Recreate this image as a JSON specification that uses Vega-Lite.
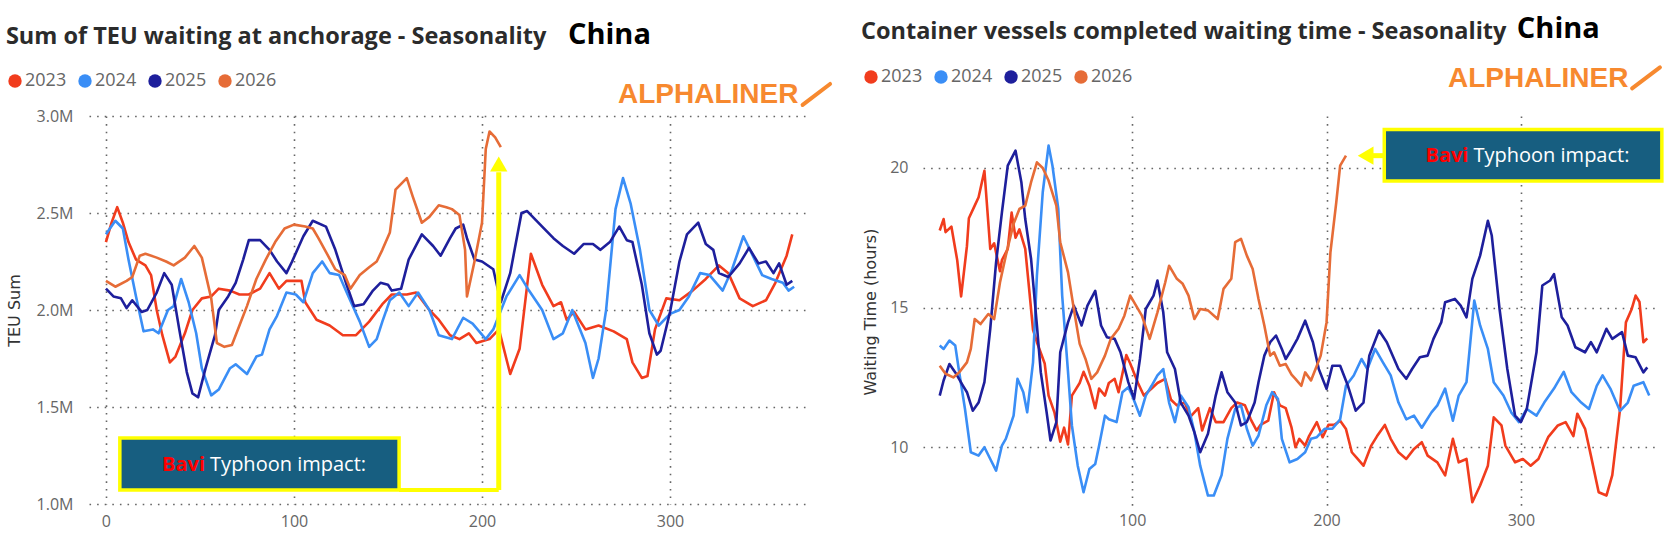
{
  "$schema": "https://vega.github.io/schema/vega-lite/v6.json",
  "background": "white",
  "padding": {"left": 5, "top": 14, "right": 5, "bottom": 5},
  "bounds": "flush",
  "spacing": 117,
  "config": {
    "view": {"stroke": null},
    "axis": {
      "domain": false,
      "ticks": false,
      "grid": true,
      "gridColor": "#666666",
      "gridDash": [1.6, 6],
      "gridWidth": 1.6,
      "labelFont": "Open Sans",
      "labelFontSize": 16,
      "labelColor": "#666666",
      "labelOverlap": false,
      "labelFlush": false,
      "titleFont": "DejaVu Sans",
      "titleFontSize": 16,
      "titleFontWeight": "normal",
      "titleColor": "#333333"
    }
  },
  "resolve": {"legend": {"color": "independent"}},
  "datasets": {
    "teu": [
      {"day":0,"year":"2023","teu":2.35},{"day":3,"year":"2023","teu":2.45},{"day":6,"year":"2023","teu":2.53},{"day":9,"year":"2023","teu":2.45},{"day":12,"year":"2023","teu":2.35},{"day":16,"year":"2023","teu":2.26},{"day":21,"year":"2023","teu":2.23},{"day":24,"year":"2023","teu":2.18},{"day":27,"year":"2023","teu":2.0},{"day":30,"year":"2023","teu":1.87},{"day":34,"year":"2023","teu":1.73},{"day":37,"year":"2023","teu":1.76},{"day":42,"year":"2023","teu":1.88},{"day":46,"year":"2023","teu":2.0},{"day":51,"year":"2023","teu":2.06},{"day":56,"year":"2023","teu":2.07},{"day":60,"year":"2023","teu":2.11},{"day":66,"year":"2023","teu":2.1},{"day":71,"year":"2023","teu":2.08},{"day":76,"year":"2023","teu":2.08},{"day":82,"year":"2023","teu":2.11},{"day":87,"year":"2023","teu":2.19},{"day":92,"year":"2023","teu":2.11},{"day":96,"year":"2023","teu":2.15},{"day":100,"year":"2023","teu":2.15},{"day":104,"year":"2023","teu":2.15},{"day":106,"year":"2023","teu":2.04},{"day":112,"year":"2023","teu":1.95},{"day":119,"year":"2023","teu":1.92},{"day":126,"year":"2023","teu":1.87},{"day":133,"year":"2023","teu":1.87},{"day":140,"year":"2023","teu":1.94},{"day":147,"year":"2023","teu":2.03},{"day":152,"year":"2023","teu":2.08},{"day":160,"year":"2023","teu":2.08},{"day":165,"year":"2023","teu":2.09},{"day":172,"year":"2023","teu":2.0},{"day":177,"year":"2023","teu":1.95},{"day":183,"year":"2023","teu":1.87},{"day":188,"year":"2023","teu":1.85},{"day":193,"year":"2023","teu":1.88},{"day":197,"year":"2023","teu":1.83},{"day":204,"year":"2023","teu":1.85},{"day":209,"year":"2023","teu":1.9},{"day":215,"year":"2023","teu":1.67},{"day":220,"year":"2023","teu":1.8},{"day":226,"year":"2023","teu":2.29},{"day":232,"year":"2023","teu":2.13},{"day":238,"year":"2023","teu":2.02},{"day":242,"year":"2023","teu":2.04},{"day":245,"year":"2023","teu":1.95},{"day":249,"year":"2023","teu":1.99},{"day":255,"year":"2023","teu":1.9},{"day":262,"year":"2023","teu":1.92},{"day":270,"year":"2023","teu":1.89},{"day":277,"year":"2023","teu":1.85},{"day":280,"year":"2023","teu":1.73},{"day":285,"year":"2023","teu":1.65},{"day":288,"year":"2023","teu":1.66},{"day":292,"year":"2023","teu":1.9},{"day":298,"year":"2023","teu":2.06},{"day":305,"year":"2023","teu":2.05},{"day":312,"year":"2023","teu":2.1},{"day":319,"year":"2023","teu":2.16},{"day":326,"year":"2023","teu":2.23},{"day":331,"year":"2023","teu":2.19},{"day":337,"year":"2023","teu":2.06},{"day":344,"year":"2023","teu":2.02},{"day":351,"year":"2023","teu":2.05},{"day":356,"year":"2023","teu":2.14},{"day":362,"year":"2023","teu":2.28},{"day":365,"year":"2023","teu":2.39},
      {"day":0,"year":"2024","teu":2.39},{"day":5,"year":"2024","teu":2.46},{"day":9,"year":"2024","teu":2.42},{"day":12,"year":"2024","teu":2.26},{"day":16,"year":"2024","teu":2.07},{"day":20,"year":"2024","teu":1.89},{"day":25,"year":"2024","teu":1.9},{"day":28,"year":"2024","teu":1.88},{"day":33,"year":"2024","teu":2.0},{"day":36,"year":"2024","teu":2.02},{"day":40,"year":"2024","teu":2.16},{"day":44,"year":"2024","teu":2.04},{"day":48,"year":"2024","teu":1.88},{"day":51,"year":"2024","teu":1.7},{"day":56,"year":"2024","teu":1.56},{"day":60,"year":"2024","teu":1.59},{"day":66,"year":"2024","teu":1.7},{"day":69,"year":"2024","teu":1.72},{"day":75,"year":"2024","teu":1.67},{"day":80,"year":"2024","teu":1.76},{"day":83,"year":"2024","teu":1.77},{"day":87,"year":"2024","teu":1.9},{"day":91,"year":"2024","teu":1.97},{"day":96,"year":"2024","teu":2.09},{"day":101,"year":"2024","teu":2.08},{"day":105,"year":"2024","teu":2.04},{"day":110,"year":"2024","teu":2.19},{"day":115,"year":"2024","teu":2.25},{"day":119,"year":"2024","teu":2.19},{"day":124,"year":"2024","teu":2.18},{"day":129,"year":"2024","teu":2.07},{"day":135,"year":"2024","teu":1.94},{"day":140,"year":"2024","teu":1.81},{"day":144,"year":"2024","teu":1.85},{"day":147,"year":"2024","teu":1.94},{"day":151,"year":"2024","teu":2.05},{"day":156,"year":"2024","teu":2.09},{"day":161,"year":"2024","teu":2.02},{"day":166,"year":"2024","teu":2.09},{"day":172,"year":"2024","teu":2.0},{"day":177,"year":"2024","teu":1.87},{"day":184,"year":"2024","teu":1.85},{"day":190,"year":"2024","teu":1.96},{"day":195,"year":"2024","teu":1.93},{"day":202,"year":"2024","teu":1.85},{"day":206,"year":"2024","teu":1.9},{"day":213,"year":"2024","teu":2.07},{"day":220,"year":"2024","teu":2.18},{"day":225,"year":"2024","teu":2.1},{"day":232,"year":"2024","teu":2.0},{"day":238,"year":"2024","teu":1.85},{"day":243,"year":"2024","teu":1.88},{"day":248,"year":"2024","teu":2.0},{"day":255,"year":"2024","teu":1.83},{"day":259,"year":"2024","teu":1.65},{"day":262,"year":"2024","teu":1.75},{"day":266,"year":"2024","teu":2.0},{"day":271,"year":"2024","teu":2.52},{"day":275,"year":"2024","teu":2.68},{"day":279,"year":"2024","teu":2.55},{"day":284,"year":"2024","teu":2.31},{"day":289,"year":"2024","teu":2.0},{"day":294,"year":"2024","teu":1.92},{"day":300,"year":"2024","teu":1.98},{"day":305,"year":"2024","teu":2.0},{"day":310,"year":"2024","teu":2.07},{"day":316,"year":"2024","teu":2.19},{"day":321,"year":"2024","teu":2.18},{"day":328,"year":"2024","teu":2.1},{"day":333,"year":"2024","teu":2.21},{"day":339,"year":"2024","teu":2.38},{"day":344,"year":"2024","teu":2.28},{"day":349,"year":"2024","teu":2.18},{"day":354,"year":"2024","teu":2.16},{"day":360,"year":"2024","teu":2.14},{"day":363,"year":"2024","teu":2.1},{"day":366,"year":"2024","teu":2.12},
      {"day":0,"year":"2025","teu":2.11},{"day":4,"year":"2025","teu":2.07},{"day":8,"year":"2025","teu":2.06},{"day":11,"year":"2025","teu":2.01},{"day":14,"year":"2025","teu":2.05},{"day":19,"year":"2025","teu":1.99},{"day":22,"year":"2025","teu":2.0},{"day":27,"year":"2025","teu":2.09},{"day":31,"year":"2025","teu":2.19},{"day":35,"year":"2025","teu":2.13},{"day":39,"year":"2025","teu":1.9},{"day":43,"year":"2025","teu":1.68},{"day":46,"year":"2025","teu":1.57},{"day":49,"year":"2025","teu":1.55},{"day":53,"year":"2025","teu":1.7},{"day":58,"year":"2025","teu":1.87},{"day":60,"year":"2025","teu":2.0},{"day":65,"year":"2025","teu":2.07},{"day":69,"year":"2025","teu":2.14},{"day":73,"year":"2025","teu":2.26},{"day":76,"year":"2025","teu":2.36},{"day":82,"year":"2025","teu":2.36},{"day":87,"year":"2025","teu":2.31},{"day":91,"year":"2025","teu":2.25},{"day":96,"year":"2025","teu":2.19},{"day":99,"year":"2025","teu":2.25},{"day":105,"year":"2025","teu":2.38},{"day":110,"year":"2025","teu":2.46},{"day":117,"year":"2025","teu":2.43},{"day":122,"year":"2025","teu":2.31},{"day":128,"year":"2025","teu":2.13},{"day":132,"year":"2025","teu":2.02},{"day":137,"year":"2025","teu":2.03},{"day":142,"year":"2025","teu":2.1},{"day":146,"year":"2025","teu":2.14},{"day":150,"year":"2025","teu":2.13},{"day":152,"year":"2025","teu":2.1},{"day":157,"year":"2025","teu":2.11},{"day":161,"year":"2025","teu":2.26},{"day":168,"year":"2025","teu":2.39},{"day":174,"year":"2025","teu":2.33},{"day":178,"year":"2025","teu":2.28},{"day":183,"year":"2025","teu":2.37},{"day":186,"year":"2025","teu":2.42},{"day":190,"year":"2025","teu":2.44},{"day":192,"year":"2025","teu":2.37},{"day":196,"year":"2025","teu":2.26},{"day":200,"year":"2025","teu":2.25},{"day":206,"year":"2025","teu":2.21},{"day":210,"year":"2025","teu":2.04},{"day":215,"year":"2025","teu":2.19},{"day":221,"year":"2025","teu":2.5},{"day":224,"year":"2025","teu":2.51},{"day":228,"year":"2025","teu":2.47},{"day":232,"year":"2025","teu":2.43},{"day":238,"year":"2025","teu":2.37},{"day":243,"year":"2025","teu":2.33},{"day":249,"year":"2025","teu":2.29},{"day":254,"year":"2025","teu":2.34},{"day":259,"year":"2025","teu":2.34},{"day":263,"year":"2025","teu":2.31},{"day":268,"year":"2025","teu":2.35},{"day":273,"year":"2025","teu":2.43},{"day":277,"year":"2025","teu":2.36},{"day":280,"year":"2025","teu":2.35},{"day":285,"year":"2025","teu":2.13},{"day":289,"year":"2025","teu":1.88},{"day":293,"year":"2025","teu":1.77},{"day":295,"year":"2025","teu":1.79},{"day":300,"year":"2025","teu":1.99},{"day":305,"year":"2025","teu":2.25},{"day":309,"year":"2025","teu":2.39},{"day":315,"year":"2025","teu":2.45},{"day":319,"year":"2025","teu":2.34},{"day":323,"year":"2025","teu":2.31},{"day":326,"year":"2025","teu":2.19},{"day":331,"year":"2025","teu":2.17},{"day":337,"year":"2025","teu":2.24},{"day":342,"year":"2025","teu":2.32},{"day":347,"year":"2025","teu":2.24},{"day":351,"year":"2025","teu":2.25},{"day":355,"year":"2025","teu":2.19},{"day":358,"year":"2025","teu":2.24},{"day":362,"year":"2025","teu":2.13},{"day":365,"year":"2025","teu":2.15},
      {"day":0,"year":"2026","teu":2.15},{"day":5,"year":"2026","teu":2.12},{"day":11,"year":"2026","teu":2.15},{"day":14,"year":"2026","teu":2.17},{"day":18,"year":"2026","teu":2.28},{"day":21,"year":"2026","teu":2.29},{"day":27,"year":"2026","teu":2.27},{"day":32,"year":"2026","teu":2.25},{"day":36,"year":"2026","teu":2.23},{"day":42,"year":"2026","teu":2.27},{"day":47,"year":"2026","teu":2.33},{"day":51,"year":"2026","teu":2.27},{"day":56,"year":"2026","teu":2.06},{"day":59,"year":"2026","teu":1.83},{"day":63,"year":"2026","teu":1.81},{"day":67,"year":"2026","teu":1.82},{"day":71,"year":"2026","teu":1.92},{"day":75,"year":"2026","teu":2.02},{"day":80,"year":"2026","teu":2.16},{"day":85,"year":"2026","teu":2.26},{"day":90,"year":"2026","teu":2.35},{"day":95,"year":"2026","teu":2.42},{"day":100,"year":"2026","teu":2.44},{"day":106,"year":"2026","teu":2.43},{"day":110,"year":"2026","teu":2.42},{"day":113,"year":"2026","teu":2.37},{"day":117,"year":"2026","teu":2.3},{"day":122,"year":"2026","teu":2.21},{"day":127,"year":"2026","teu":2.18},{"day":130,"year":"2026","teu":2.11},{"day":135,"year":"2026","teu":2.18},{"day":140,"year":"2026","teu":2.22},{"day":144,"year":"2026","teu":2.25},{"day":147,"year":"2026","teu":2.31},{"day":151,"year":"2026","teu":2.4},{"day":154,"year":"2026","teu":2.62},{"day":160,"year":"2026","teu":2.68},{"day":163,"year":"2026","teu":2.59},{"day":168,"year":"2026","teu":2.45},{"day":172,"year":"2026","teu":2.48},{"day":177,"year":"2026","teu":2.54},{"day":181,"year":"2026","teu":2.53},{"day":184,"year":"2026","teu":2.52},{"day":188,"year":"2026","teu":2.49},{"day":191,"year":"2026","teu":2.31},{"day":192,"year":"2026","teu":2.07},{"day":196,"year":"2026","teu":2.25},{"day":200,"year":"2026","teu":2.45},{"day":202,"year":"2026","teu":2.83},{"day":204,"year":"2026","teu":2.92},{"day":207,"year":"2026","teu":2.89},{"day":210,"year":"2026","teu":2.84}
    ],
    "wait": [
      {"day":1,"year":"2023","hours":17.76},{"day":3,"year":"2023","hours":18.17},{"day":4,"year":"2023","hours":17.7},{"day":7,"year":"2023","hours":17.9},{"day":9,"year":"2023","hours":17.1},{"day":10,"year":"2023","hours":16.7},{"day":12,"year":"2023","hours":15.4},{"day":15,"year":"2023","hours":17.2},{"day":16,"year":"2023","hours":18.2},{"day":19,"year":"2023","hours":18.65},{"day":21,"year":"2023","hours":18.95},{"day":24,"year":"2023","hours":19.9},{"day":27,"year":"2023","hours":17.1},{"day":29,"year":"2023","hours":17.3},{"day":32,"year":"2023","hours":16.3},{"day":33,"year":"2023","hours":16.7},{"day":36,"year":"2023","hours":17.1},{"day":38,"year":"2023","hours":18.4},{"day":40,"year":"2023","hours":17.5},{"day":42,"year":"2023","hours":17.8},{"day":45,"year":"2023","hours":17.1},{"day":47,"year":"2023","hours":15.67},{"day":49,"year":"2023","hours":14.2},{"day":51,"year":"2023","hours":13.76},{"day":55,"year":"2023","hours":13.0},{"day":57,"year":"2023","hours":11.85},{"day":60,"year":"2023","hours":11.25},{"day":63,"year":"2023","hours":10.2},{"day":65,"year":"2023","hours":10.7},{"day":67,"year":"2023","hours":10.1},{"day":69,"year":"2023","hours":11.85},{"day":73,"year":"2023","hours":12.3},{"day":75,"year":"2023","hours":12.7},{"day":78,"year":"2023","hours":12.2},{"day":81,"year":"2023","hours":11.4},{"day":83,"year":"2023","hours":12.1},{"day":86,"year":"2023","hours":11.85},{"day":88,"year":"2023","hours":12.3},{"day":91,"year":"2023","hours":12.45},{"day":93,"year":"2023","hours":11.97},{"day":97,"year":"2023","hours":13.3},{"day":99,"year":"2023","hours":13.0},{"day":103,"year":"2023","hours":12.3},{"day":106,"year":"2023","hours":11.85},{"day":110,"year":"2023","hours":12.1},{"day":113,"year":"2023","hours":12.3},{"day":117,"year":"2023","hours":12.45},{"day":120,"year":"2023","hours":11.7},{"day":123,"year":"2023","hours":11.5},{"day":127,"year":"2023","hours":11.6},{"day":130,"year":"2023","hours":11.1},{"day":134,"year":"2023","hours":11.4},{"day":136,"year":"2023","hours":10.6},{"day":140,"year":"2023","hours":11.4},{"day":143,"year":"2023","hours":10.9},{"day":147,"year":"2023","hours":10.9},{"day":151,"year":"2023","hours":11.4},{"day":154,"year":"2023","hours":11.6},{"day":158,"year":"2023","hours":11.5},{"day":161,"year":"2023","hours":11.0},{"day":164,"year":"2023","hours":10.6},{"day":166,"year":"2023","hours":10.8},{"day":170,"year":"2023","hours":10.95},{"day":173,"year":"2023","hours":11.97},{"day":176,"year":"2023","hours":11.5},{"day":179,"year":"2023","hours":11.4},{"day":182,"year":"2023","hours":10.7},{"day":184,"year":"2023","hours":10.0},{"day":186,"year":"2023","hours":10.3},{"day":189,"year":"2023","hours":10.06},{"day":191,"year":"2023","hours":10.4},{"day":195,"year":"2023","hours":10.9},{"day":198,"year":"2023","hours":10.36},{"day":201,"year":"2023","hours":10.8},{"day":204,"year":"2023","hours":10.8},{"day":207,"year":"2023","hours":10.95},{"day":210,"year":"2023","hours":10.65},{"day":213,"year":"2023","hours":9.82},{"day":216,"year":"2023","hours":9.58},{"day":219,"year":"2023","hours":9.34},{"day":223,"year":"2023","hours":10.06},{"day":226,"year":"2023","hours":10.4},{"day":230,"year":"2023","hours":10.8},{"day":233,"year":"2023","hours":10.3},{"day":237,"year":"2023","hours":9.82},{"day":241,"year":"2023","hours":9.58},{"day":245,"year":"2023","hours":9.94},{"day":249,"year":"2023","hours":10.18},{"day":252,"year":"2023","hours":9.7},{"day":257,"year":"2023","hours":9.46},{"day":261,"year":"2023","hours":8.99},{"day":265,"year":"2023","hours":10.3},{"day":268,"year":"2023","hours":9.46},{"day":272,"year":"2023","hours":9.58},{"day":275,"year":"2023","hours":8.03},{"day":279,"year":"2023","hours":8.63},{"day":283,"year":"2023","hours":9.34},{"day":286,"year":"2023","hours":11.07},{"day":290,"year":"2023","hours":10.78},{"day":292,"year":"2023","hours":10.06},{"day":297,"year":"2023","hours":9.46},{"day":301,"year":"2023","hours":9.58},{"day":305,"year":"2023","hours":9.34},{"day":309,"year":"2023","hours":9.58},{"day":314,"year":"2023","hours":10.36},{"day":319,"year":"2023","hours":10.78},{"day":323,"year":"2023","hours":10.9},{"day":327,"year":"2023","hours":10.4},{"day":329,"year":"2023","hours":11.2},{"day":333,"year":"2023","hours":10.66},{"day":336,"year":"2023","hours":9.7},{"day":340,"year":"2023","hours":8.39},{"day":344,"year":"2023","hours":8.27},{"day":347,"year":"2023","hours":9.0},{"day":351,"year":"2023","hours":11.37},{"day":354,"year":"2023","hours":14.47},{"day":357,"year":"2023","hours":14.95},{"day":359,"year":"2023","hours":15.43},{"day":361,"year":"2023","hours":15.2},{"day":363,"year":"2023","hours":13.76},{"day":365,"year":"2023","hours":13.9},
      {"day":1,"year":"2024","hours":13.64},{"day":3,"year":"2024","hours":13.52},{"day":6,"year":"2024","hours":13.82},{"day":9,"year":"2024","hours":13.64},{"day":11,"year":"2024","hours":12.7},{"day":14,"year":"2024","hours":11.37},{"day":17,"year":"2024","hours":9.82},{"day":21,"year":"2024","hours":9.7},{"day":24,"year":"2024","hours":10.0},{"day":27,"year":"2024","hours":9.58},{"day":30,"year":"2024","hours":9.16},{"day":33,"year":"2024","hours":10.06},{"day":35,"year":"2024","hours":10.3},{"day":39,"year":"2024","hours":11.13},{"day":41,"year":"2024","hours":12.45},{"day":44,"year":"2024","hours":11.97},{"day":46,"year":"2024","hours":11.25},{"day":49,"year":"2024","hours":13.04},{"day":51,"year":"2024","hours":16.15},{"day":54,"year":"2024","hours":19.13},{"day":57,"year":"2024","hours":20.8},{"day":59,"year":"2024","hours":20.08},{"day":62,"year":"2024","hours":18.53},{"day":64,"year":"2024","hours":15.43},{"day":67,"year":"2024","hours":12.7},{"day":69,"year":"2024","hours":10.78},{"day":72,"year":"2024","hours":9.34},{"day":75,"year":"2024","hours":8.39},{"day":78,"year":"2024","hours":9.22},{"day":81,"year":"2024","hours":9.4},{"day":83,"year":"2024","hours":10.06},{"day":86,"year":"2024","hours":11.13},{"day":88,"year":"2024","hours":11.0},{"day":92,"year":"2024","hours":10.9},{"day":95,"year":"2024","hours":11.97},{"day":98,"year":"2024","hours":12.15},{"day":100,"year":"2024","hours":11.85},{"day":104,"year":"2024","hours":11.13},{"day":107,"year":"2024","hours":11.85},{"day":110,"year":"2024","hours":12.2},{"day":113,"year":"2024","hours":12.57},{"day":116,"year":"2024","hours":12.8},{"day":119,"year":"2024","hours":11.6},{"day":122,"year":"2024","hours":10.9},{"day":125,"year":"2024","hours":11.85},{"day":129,"year":"2024","hours":11.43},{"day":132,"year":"2024","hours":10.54},{"day":135,"year":"2024","hours":9.34},{"day":139,"year":"2024","hours":8.27},{"day":142,"year":"2024","hours":8.27},{"day":146,"year":"2024","hours":9.0},{"day":149,"year":"2024","hours":10.3},{"day":153,"year":"2024","hours":11.37},{"day":156,"year":"2024","hours":11.5},{"day":159,"year":"2024","hours":10.66},{"day":162,"year":"2024","hours":10.06},{"day":165,"year":"2024","hours":10.42},{"day":169,"year":"2024","hours":11.5},{"day":172,"year":"2024","hours":11.97},{"day":175,"year":"2024","hours":11.73},{"day":177,"year":"2024","hours":10.3},{"day":181,"year":"2024","hours":9.46},{"day":185,"year":"2024","hours":9.58},{"day":189,"year":"2024","hours":9.82},{"day":192,"year":"2024","hours":10.3},{"day":195,"year":"2024","hours":10.36},{"day":199,"year":"2024","hours":10.66},{"day":203,"year":"2024","hours":10.66},{"day":207,"year":"2024","hours":11.0},{"day":210,"year":"2024","hours":12.2},{"day":214,"year":"2024","hours":12.57},{"day":218,"year":"2024","hours":13.16},{"day":221,"year":"2024","hours":12.8},{"day":225,"year":"2024","hours":13.52},{"day":229,"year":"2024","hours":13.04},{"day":233,"year":"2024","hours":12.57},{"day":237,"year":"2024","hours":11.6},{"day":241,"year":"2024","hours":11.0},{"day":245,"year":"2024","hours":11.13},{"day":249,"year":"2024","hours":10.7},{"day":254,"year":"2024","hours":11.25},{"day":257,"year":"2024","hours":11.5},{"day":261,"year":"2024","hours":12.1},{"day":265,"year":"2024","hours":10.95},{"day":268,"year":"2024","hours":11.85},{"day":272,"year":"2024","hours":12.33},{"day":276,"year":"2024","hours":15.25},{"day":279,"year":"2024","hours":14.36},{"day":283,"year":"2024","hours":13.52},{"day":286,"year":"2024","hours":12.33},{"day":291,"year":"2024","hours":11.85},{"day":295,"year":"2024","hours":11.25},{"day":299,"year":"2024","hours":10.9},{"day":303,"year":"2024","hours":11.37},{"day":308,"year":"2024","hours":11.13},{"day":312,"year":"2024","hours":11.6},{"day":317,"year":"2024","hours":12.1},{"day":322,"year":"2024","hours":12.7},{"day":326,"year":"2024","hours":11.97},{"day":331,"year":"2024","hours":11.6},{"day":335,"year":"2024","hours":11.37},{"day":339,"year":"2024","hours":12.2},{"day":342,"year":"2024","hours":12.57},{"day":346,"year":"2024","hours":12.1},{"day":351,"year":"2024","hours":11.3},{"day":355,"year":"2024","hours":11.6},{"day":358,"year":"2024","hours":12.2},{"day":363,"year":"2024","hours":12.33},{"day":366,"year":"2024","hours":11.85},
      {"day":1,"year":"2025","hours":11.85},{"day":3,"year":"2025","hours":12.39},{"day":6,"year":"2025","hours":12.98},{"day":9,"year":"2025","hours":12.68},{"day":13,"year":"2025","hours":12.2},{"day":15,"year":"2025","hours":11.97},{"day":18,"year":"2025","hours":11.31},{"day":21,"year":"2025","hours":11.6},{"day":24,"year":"2025","hours":12.33},{"day":27,"year":"2025","hours":14.24},{"day":30,"year":"2025","hours":16.62},{"day":33,"year":"2025","hours":18.41},{"day":36,"year":"2025","hours":20.08},{"day":40,"year":"2025","hours":20.62},{"day":43,"year":"2025","hours":19.49},{"day":45,"year":"2025","hours":18.17},{"day":48,"year":"2025","hours":16.74},{"day":51,"year":"2025","hours":14.36},{"day":53,"year":"2025","hours":12.68},{"day":56,"year":"2025","hours":11.25},{"day":58,"year":"2025","hours":10.24},{"day":61,"year":"2025","hours":10.9},{"day":63,"year":"2025","hours":13.4},{"day":67,"year":"2025","hours":14.47},{"day":70,"year":"2025","hours":15.07},{"day":74,"year":"2025","hours":14.36},{"day":77,"year":"2025","hours":15.07},{"day":81,"year":"2025","hours":15.6},{"day":84,"year":"2025","hours":14.36},{"day":87,"year":"2025","hours":13.94},{"day":91,"year":"2025","hours":13.88},{"day":94,"year":"2025","hours":13.4},{"day":98,"year":"2025","hours":12.33},{"day":101,"year":"2025","hours":11.73},{"day":104,"year":"2025","hours":13.16},{"day":107,"year":"2025","hours":14.95},{"day":111,"year":"2025","hours":15.43},{"day":113,"year":"2025","hours":15.97},{"day":116,"year":"2025","hours":14.83},{"day":118,"year":"2025","hours":13.4},{"day":122,"year":"2025","hours":12.8},{"day":125,"year":"2025","hours":11.6},{"day":129,"year":"2025","hours":11.13},{"day":132,"year":"2025","hours":10.54},{"day":135,"year":"2025","hours":9.82},{"day":139,"year":"2025","hours":10.48},{"day":143,"year":"2025","hours":11.85},{"day":146,"year":"2025","hours":12.68},{"day":149,"year":"2025","hours":11.97},{"day":153,"year":"2025","hours":11.6},{"day":156,"year":"2025","hours":10.78},{"day":159,"year":"2025","hours":10.9},{"day":163,"year":"2025","hours":11.6},{"day":165,"year":"2025","hours":12.33},{"day":168,"year":"2025","hours":13.28},{"day":171,"year":"2025","hours":13.76},{"day":174,"year":"2025","hours":14.0},{"day":177,"year":"2025","hours":13.52},{"day":179,"year":"2025","hours":13.16},{"day":182,"year":"2025","hours":13.5},{"day":185,"year":"2025","hours":13.88},{"day":189,"year":"2025","hours":14.53},{"day":193,"year":"2025","hours":13.76},{"day":196,"year":"2025","hours":12.8},{"day":200,"year":"2025","hours":12.09},{"day":203,"year":"2025","hours":12.92},{"day":207,"year":"2025","hours":12.92},{"day":211,"year":"2025","hours":12.2},{"day":215,"year":"2025","hours":11.31},{"day":219,"year":"2025","hours":11.6},{"day":222,"year":"2025","hours":13.28},{"day":227,"year":"2025","hours":14.18},{"day":231,"year":"2025","hours":13.76},{"day":237,"year":"2025","hours":12.8},{"day":241,"year":"2025","hours":12.45},{"day":244,"year":"2025","hours":12.8},{"day":248,"year":"2025","hours":13.22},{"day":252,"year":"2025","hours":13.28},{"day":255,"year":"2025","hours":13.88},{"day":259,"year":"2025","hours":14.47},{"day":261,"year":"2025","hours":15.19},{"day":266,"year":"2025","hours":15.31},{"day":269,"year":"2025","hours":15.07},{"day":272,"year":"2025","hours":14.65},{"day":275,"year":"2025","hours":16.03},{"day":279,"year":"2025","hours":16.86},{"day":283,"year":"2025","hours":18.11},{"day":285,"year":"2025","hours":17.58},{"day":289,"year":"2025","hours":14.95},{"day":293,"year":"2025","hours":12.8},{"day":297,"year":"2025","hours":11.13},{"day":300,"year":"2025","hours":10.9},{"day":303,"year":"2025","hours":11.37},{"day":308,"year":"2025","hours":13.4},{"day":311,"year":"2025","hours":15.79},{"day":315,"year":"2025","hours":15.97},{"day":317,"year":"2025","hours":16.2},{"day":321,"year":"2025","hours":14.65},{"day":324,"year":"2025","hours":14.36},{"day":328,"year":"2025","hours":13.58},{"day":333,"year":"2025","hours":13.4},{"day":336,"year":"2025","hours":13.76},{"day":339,"year":"2025","hours":13.4},{"day":344,"year":"2025","hours":14.24},{"day":347,"year":"2025","hours":13.88},{"day":352,"year":"2025","hours":14.12},{"day":355,"year":"2025","hours":13.28},{"day":359,"year":"2025","hours":13.22},{"day":363,"year":"2025","hours":12.68},{"day":365,"year":"2025","hours":12.86},
      {"day":1,"year":"2026","hours":12.92},{"day":4,"year":"2026","hours":12.63},{"day":8,"year":"2026","hours":12.5},{"day":11,"year":"2026","hours":12.68},{"day":15,"year":"2026","hours":13.04},{"day":17,"year":"2026","hours":13.52},{"day":19,"year":"2026","hours":14.59},{"day":22,"year":"2026","hours":14.41},{"day":26,"year":"2026","hours":14.77},{"day":29,"year":"2026","hours":14.59},{"day":32,"year":"2026","hours":15.9},{"day":35,"year":"2026","hours":16.86},{"day":39,"year":"2026","hours":18.0},{"day":42,"year":"2026","hours":18.53},{"day":45,"year":"2026","hours":18.65},{"day":48,"year":"2026","hours":19.49},{"day":51,"year":"2026","hours":20.2},{"day":54,"year":"2026","hours":20.0},{"day":57,"year":"2026","hours":19.55},{"day":61,"year":"2026","hours":18.65},{"day":63,"year":"2026","hours":17.34},{"day":67,"year":"2026","hours":16.26},{"day":70,"year":"2026","hours":14.95},{"day":73,"year":"2026","hours":13.7},{"day":76,"year":"2026","hours":13.16},{"day":79,"year":"2026","hours":12.45},{"day":82,"year":"2026","hours":12.68},{"day":86,"year":"2026","hours":13.28},{"day":89,"year":"2026","hours":13.88},{"day":93,"year":"2026","hours":14.24},{"day":96,"year":"2026","hours":14.71},{"day":99,"year":"2026","hours":15.43},{"day":102,"year":"2026","hours":15.07},{"day":105,"year":"2026","hours":14.71},{"day":109,"year":"2026","hours":13.88},{"day":113,"year":"2026","hours":14.83},{"day":117,"year":"2026","hours":15.9},{"day":119,"year":"2026","hours":16.5},{"day":123,"year":"2026","hours":16.03},{"day":126,"year":"2026","hours":15.85},{"day":129,"year":"2026","hours":15.43},{"day":132,"year":"2026","hours":14.59},{"day":135,"year":"2026","hours":14.95},{"day":139,"year":"2026","hours":14.9},{"day":144,"year":"2026","hours":14.59},{"day":147,"year":"2026","hours":15.67},{"day":151,"year":"2026","hours":16.03},{"day":153,"year":"2026","hours":17.34},{"day":156,"year":"2026","hours":17.46},{"day":159,"year":"2026","hours":16.86},{"day":162,"year":"2026","hours":16.38},{"day":165,"year":"2026","hours":15.31},{"day":168,"year":"2026","hours":14.36},{"day":171,"year":"2026","hours":13.28},{"day":173,"year":"2026","hours":13.4},{"day":176,"year":"2026","hours":12.92},{"day":179,"year":"2026","hours":12.98},{"day":182,"year":"2026","hours":12.6},{"day":184,"year":"2026","hours":12.45},{"day":187,"year":"2026","hours":12.2},{"day":189,"year":"2026","hours":12.68},{"day":192,"year":"2026","hours":12.39},{"day":195,"year":"2026","hours":12.92},{"day":197,"year":"2026","hours":13.28},{"day":200,"year":"2026","hours":14.47},{"day":202,"year":"2026","hours":16.98},{"day":205,"year":"2026","hours":18.77},{"day":207,"year":"2026","hours":20.08},{"day":210,"year":"2026","hours":20.44}
    ]
  },
  "hconcat": [
    {
      "width": 717,
      "height": 388,
      "layer": [
        {
          "data": {"name": "teu"},
          "mark": {"type": "line", "strokeWidth": 2.6, "strokeJoin": "round"},
          "encoding": {
            "x": {
              "field": "day", "type": "quantitative",
              "scale": {"domain": [-9, 372.3], "nice": false, "zero": false},
              "axis": {"values": [0, 100, 200, 300], "title": null, "labelPadding": 9}
            },
            "y": {
              "field": "teu", "type": "quantitative",
              "scale": {"domain": [1, 3], "nice": false, "zero": false},
              "axis": {
                "values": [1, 1.5, 2, 2.5, 3],
                "labelExpr": "format(datum.value, '.1f') + 'M'",
                "labelPadding": 16,
                "title": "TEU Sum",
                "titleX": -75,
                "titleBaseline": "middle",
                "titleAngle": 270
              }
            },
            "color": {
              "field": "year", "type": "nominal",
              "scale": {"domain": ["2023", "2024", "2025", "2026"], "range": ["#F13C1D", "#3A8EF6", "#1E1F9C", "#E66C37"]},
              "legend": {
                "orient": "none", "legendX": -83, "legendY": -44, "direction": "horizontal",
                "title": null, "symbolType": "circle", "symbolSize": 180, "symbolStrokeWidth": 0,
                "labelFont": "Open Sans", "labelFontSize": 18, "labelColor": "#666666",
                "columnPadding": 9, "labelOffset": 1, "padding": 0,
                "encode": {"symbols": {"update": {"fill": {"scale": "color", "field": "value"}, "opacity": {"value": 1}}}}
              }
            }
          }
        },
        {
          "data": {"values": [{}]},
          "mark": {"type": "rect", "fill": "#175E80", "stroke": "#FFFF00", "strokeWidth": 3.5},
          "encoding": {
            "x": {"datum": 7.4, "type": "quantitative"}, "x2": {"datum": 155.9},
            "y": {"datum": 1.34, "type": "quantitative"}, "y2": {"datum": 1.072}
          }
        },
        {
          "data": {"values": [{}]},
          "mark": {"type": "rule", "color": "#FFFF00", "strokeWidth": 4},
          "encoding": {
            "x": {"datum": 155.9, "type": "quantitative"}, "x2": {"datum": 208.9},
            "y": {"datum": 1.072, "type": "quantitative"}
          }
        },
        {
          "data": {"values": [{}]},
          "mark": {"type": "rule", "color": "#FFFF00", "strokeWidth": 5},
          "encoding": {
            "x": {"datum": 208.9, "type": "quantitative"},
            "y": {"datum": 1.072, "type": "quantitative"}, "y2": {"datum": 2.71}
          }
        },
        {
          "data": {"values": [{}]},
          "mark": {"type": "point", "shape": "triangle-up", "filled": true, "color": "#FFFF00", "size": 300, "opacity": 1},
          "encoding": {
            "x": {"datum": 208.9, "type": "quantitative"},
            "y": {"datum": 2.753, "type": "quantitative"}
          }
        },
        {
          "data": {"values": [{}]},
          "mark": {"type": "text", "text": "Bavi", "align": "right", "baseline": "middle", "font": "Open Sans", "fontSize": 20, "fontWeight": "bold", "color": "#FF0000"},
          "encoding": {"x": {"datum": 52.7, "type": "quantitative"}, "y": {"datum": 1.201, "type": "quantitative"}}
        },
        {
          "data": {"values": [{}]},
          "mark": {"type": "text", "text": "Typhoon impact:", "align": "left", "baseline": "middle", "font": "Open Sans", "fontSize": 20, "color": "#FFFFFF"},
          "encoding": {"x": {"datum": 55.4, "type": "quantitative"}, "y": {"datum": 1.201, "type": "quantitative"}}
        },
        {
          "data": {"values": [{}]},
          "mark": {"type": "text", "text": "Sum of TEU waiting at anchorage - Seasonality", "align": "left", "baseline": "middle", "font": "Open Sans", "fontSize": 23.5, "fontWeight": "bold", "color": "#2B2B2B"},
          "encoding": {"x": {"datum": -53.2, "type": "quantitative"}, "y": {"datum": 3.407, "type": "quantitative"}}
        },
        {
          "data": {"values": [{}]},
          "mark": {"type": "text", "text": "China", "align": "left", "baseline": "middle", "font": "Open Sans", "fontSize": 29, "fontWeight": "bold", "color": "#000000"},
          "encoding": {"x": {"datum": 245.7, "type": "quantitative"}, "y": {"datum": 3.42, "type": "quantitative"}}
        },
        {
          "data": {"values": [{}]},
          "mark": {"type": "text", "text": "ALPHALINER", "align": "left", "baseline": "middle", "font": "Liberation Sans", "fontSize": 28, "fontWeight": "bold", "color": "#F7892F"},
          "encoding": {"x": {"datum": 272.3, "type": "quantitative"}, "y": {"datum": 3.108, "type": "quantitative"}}
        },
        {
          "data": {"values": [{}]},
          "mark": {"type": "rule", "color": "#F7892F", "strokeWidth": 4, "strokeCap": "round"},
          "encoding": {
            "x": {"datum": 370.5, "type": "quantitative"}, "x2": {"datum": 385.1},
            "y": {"datum": 3.057, "type": "quantitative"}, "y2": {"datum": 3.165}
          }
        }
      ]
    },
    {
      "width": 734,
      "height": 391,
      "layer": [
        {
          "data": {"name": "wait"},
          "mark": {"type": "line", "strokeWidth": 2.6, "strokeJoin": "round"},
          "encoding": {
            "x": {
              "field": "day", "type": "quantitative",
              "scale": {"domain": [-7.6, 370], "nice": false, "zero": false},
              "axis": {"values": [100, 200, 300], "title": null, "labelPadding": 5}
            },
            "y": {
              "field": "hours", "type": "quantitative",
              "scale": {"domain": [7.86, 21.86], "nice": false, "zero": false},
              "axis": {
                "values": [10, 15, 20],
                "labelPadding": 15,
                "title": "Waiting Time (hours)",
                "titleX": -53,
                "titleBaseline": "middle",
                "titleAngle": 270
              }
            },
            "color": {
              "field": "year", "type": "nominal",
              "scale": {"domain": ["2023", "2024", "2025", "2026"], "range": ["#F13C1D", "#3A8EF6", "#1E1F9C", "#E66C37"]},
              "legend": {
                "orient": "none", "legendX": -61, "legendY": -48, "direction": "horizontal",
                "title": null, "symbolType": "circle", "symbolSize": 180, "symbolStrokeWidth": 0,
                "labelFont": "Open Sans", "labelFontSize": 18, "labelColor": "#666666",
                "columnPadding": 9, "labelOffset": 1, "padding": 0,
                "encode": {"symbols": {"update": {"fill": {"scale": "color", "field": "value"}, "opacity": {"value": 1}}}}
              }
            }
          }
        },
        {
          "data": {"values": [{}]},
          "mark": {"type": "rect", "fill": "#175E80", "stroke": "#FFFF00", "strokeWidth": 3.5},
          "encoding": {
            "x": {"datum": 229.7, "type": "quantitative"}, "x2": {"datum": 372.5},
            "y": {"datum": 21.38, "type": "quantitative"}, "y2": {"datum": 19.53}
          }
        },
        {
          "data": {"values": [{}]},
          "mark": {"type": "rule", "color": "#FFFF00", "strokeWidth": 5},
          "encoding": {
            "x": {"datum": 223.5, "type": "quantitative"}, "x2": {"datum": 229.7},
            "y": {"datum": 20.44, "type": "quantitative"}
          }
        },
        {
          "data": {"values": [{}]},
          "mark": {"type": "point", "shape": "triangle-left", "filled": true, "color": "#FFFF00", "size": 330, "opacity": 1},
          "encoding": {
            "x": {"datum": 220.1, "type": "quantitative"},
            "y": {"datum": 20.44, "type": "quantitative"}
          }
        },
        {
          "data": {"values": [{}]},
          "mark": {"type": "text", "text": "Bavi", "align": "right", "baseline": "middle", "font": "Open Sans", "fontSize": 20, "fontWeight": "bold", "color": "#FF0000"},
          "encoding": {"x": {"datum": 273.0, "type": "quantitative"}, "y": {"datum": 20.44, "type": "quantitative"}}
        },
        {
          "data": {"values": [{}]},
          "mark": {"type": "text", "text": "Typhoon impact:", "align": "left", "baseline": "middle", "font": "Open Sans", "fontSize": 20, "color": "#FFFFFF"},
          "encoding": {"x": {"datum": 275.6, "type": "quantitative"}, "y": {"datum": 20.44, "type": "quantitative"}}
        },
        {
          "data": {"values": [{}]},
          "mark": {"type": "text", "text": "Container vessels completed waiting time - Seasonality", "align": "left", "baseline": "middle", "font": "Open Sans", "fontSize": 23.5, "fontWeight": "bold", "color": "#2B2B2B"},
          "encoding": {"x": {"datum": -39.5, "type": "quantitative"}, "y": {"datum": 24.87, "type": "quantitative"}}
        },
        {
          "data": {"values": [{}]},
          "mark": {"type": "text", "text": "China", "align": "left", "baseline": "middle", "font": "Open Sans", "fontSize": 29, "fontWeight": "bold", "color": "#000000"},
          "encoding": {"x": {"datum": 297.9, "type": "quantitative"}, "y": {"datum": 24.98, "type": "quantitative"}}
        },
        {
          "data": {"values": [{}]},
          "mark": {"type": "text", "text": "ALPHALINER", "align": "left", "baseline": "middle", "font": "Liberation Sans", "fontSize": 28, "fontWeight": "bold", "color": "#F7892F"},
          "encoding": {"x": {"datum": 262.5, "type": "quantitative"}, "y": {"datum": 23.2, "type": "quantitative"}}
        },
        {
          "data": {"values": [{}]},
          "mark": {"type": "rule", "color": "#F7892F", "strokeWidth": 4, "strokeCap": "round"},
          "encoding": {
            "x": {"datum": 357.2, "type": "quantitative"}, "x2": {"datum": 371.5},
            "y": {"datum": 22.85, "type": "quantitative"}, "y2": {"datum": 23.6}
          }
        }
      ]
    }
  ]
}
